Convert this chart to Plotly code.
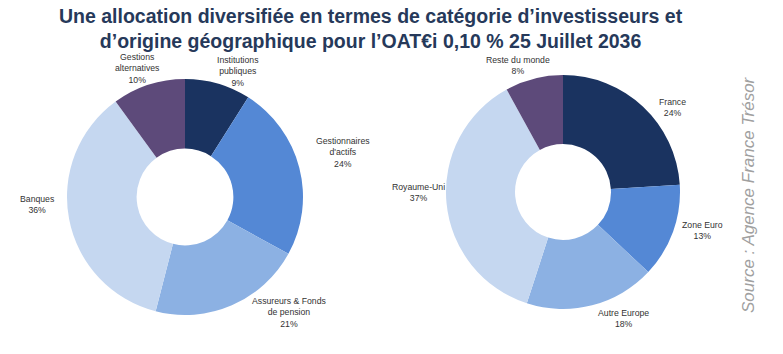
import plotly.graph_objects as go

W, H = 783, 354

# Data
inv_categories = ["Institutions publiques", "Gestionnaires d'actifs", "Assureurs & Fonds de pension",
                  "Banques", "Gestions alternatives"]
inv_display = ["Institutions<br>publiques", "Gestionnaires<br>d'actifs", "Assureurs & Fonds<br>de pension",
               "Banques", "Gestions<br>alternatives"]
inv_values = [9, 24, 21, 36, 10]

geo_categories = ["France", "Zone Euro", "Autre Europe", "Royaume-Uni", "Reste du monde"]
geo_display = ["France", "Zone Euro", "Autre Europe", "Royaume-Uni", "Reste du monde"]
geo_values = [24, 13, 18, 37, 8]

colors = ["#1a3360", "#5488d5", "#8cb1e3", "#c5d7f0", "#5d4a7a"]

# Layout (pixel geometry)
left_center, left_r = (185, 197), 118
right_center, right_r = (563, 192), 117

inv_label_pos = [(238, 71), (343, 153), (289, 312), (37, 205), (137, 68)]
geo_label_pos = [(672, 107), (702, 230), (623, 318), (418, 192), (518, 66)]


def domain(center, r):
    cx, cy = center
    return dict(x=[(cx - r) / W, (cx + r) / W], y=[(H - cy - r) / H, (H - cy + r) / H])


fig = go.Figure()
for cats, vals, c, r in [(inv_categories, inv_values, left_center, left_r),
                         (geo_categories, geo_values, right_center, right_r)]:
    fig.add_trace(go.Pie(
        labels=cats, values=vals, hole=0.41, sort=False, direction="clockwise", rotation=0,
        marker=dict(colors=colors, line=dict(width=0)), textinfo="none",
        domain=domain(c, r), showlegend=False,
    ))

annotations = []
for disp, vals, pos in [(inv_display, inv_values, inv_label_pos), (geo_display, geo_values, geo_label_pos)]:
    for d, v, (px, py) in zip(disp, vals, pos):
        annotations.append(dict(
            text=f"{d}<br>{v}%", x=px / W, y=(H - py) / H, xref="paper", yref="paper",
            showarrow=False, xanchor="center", yanchor="middle", align="center",
            font=dict(family="Liberation Sans, Arial", size=8.7, color="#333333"),
        ))

annotations.append(dict(
    text="<b>Une allocation diversifiée en termes de catégorie d’investisseurs et<br>"
         "d’origine géographique pour l’OAT€i 0,10 % 25 Juillet 2036</b>",
    x=371 / W, y=(H - 29) / H, xref="paper", yref="paper", showarrow=False,
    xanchor="center", yanchor="middle", align="center",
    font=dict(family="Liberation Sans, Arial", size=19.5, color="#26395a"),
))
annotations.append(dict(
    text="<i>Source : Agence France Trésor</i>", x=748 / W, y=(H - 195) / H,
    xref="paper", yref="paper", showarrow=False, textangle=-90,
    xanchor="center", yanchor="middle",
    font=dict(family="Liberation Sans, Arial", size=17, color="#a0a0a0"),
))

fig.update_layout(
    width=W, height=H, margin=dict(l=0, r=0, t=0, b=0),
    paper_bgcolor="white", plot_bgcolor="white",
    annotations=annotations,
)

fig.write_html("out.html")
